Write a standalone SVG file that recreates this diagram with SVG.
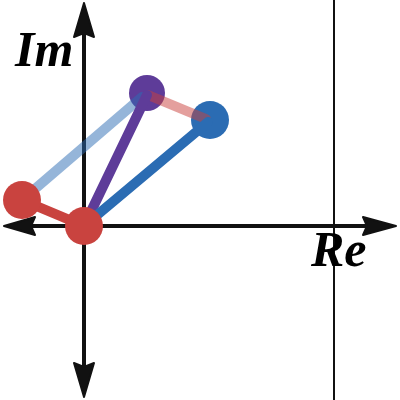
<svg xmlns="http://www.w3.org/2000/svg" width="400" height="400" viewBox="0 0 400 400">
<style>
.axis{stroke:#111;stroke-width:4;fill:none}
.head{fill:#111;stroke:#111;stroke-width:2;stroke-linejoin:round}
.seg{stroke-width:10;stroke-linecap:round;fill:none}
.lbl{font-family:"Liberation Serif","Times New Roman",serif;font-style:italic;font-weight:bold;font-size:50px;fill:#000}
</style>
<rect width="400" height="400" fill="#fff"/>
<g id="axes">
<line x1="334" y1="0" x2="334" y2="400" stroke="#111" stroke-width="2"/>
<line class="axis" x1="10" y1="226" x2="390" y2="226"/>
<line class="axis" x1="84" y1="10" x2="84" y2="390"/>
<polygon class="head" points="396,226 363,217 367,226 363,235"/>
<polygon class="head" points="4,226 35,217 31,226 35,235"/>
<polygon class="head" points="84,3 74,37 84,33 94,37"/>
<polygon class="head" points="84,397 74,363 84,367 94,363"/>
</g>
<g id="labels">
<text class="lbl" x="15" y="66">Im</text>
<text class="lbl" x="311" y="266">Re</text>
</g>
<g id="node-purple"><circle cx="147" cy="93" r="18" fill="#5e3c99"/></g>
<g id="node-blue"><circle cx="210" cy="120" r="19" fill="#2b6cb3"/></g>
<g id="connectors">
<line class="seg" x1="22" y1="200" x2="142" y2="97" stroke="#2b6cb3" stroke-opacity="0.5"/>
<line class="seg" x1="148" y1="95" x2="206" y2="119" stroke="#ca3f3b" stroke-opacity="0.5"/>
<line class="seg" x1="84" y1="226" x2="147" y2="95" stroke="#5e3c99"/>
<line class="seg" x1="84" y1="226" x2="208" y2="122" stroke="#2b6cb3" stroke-width="11"/>
<line class="seg" x1="22" y1="200" x2="84" y2="226" stroke="#c9433f"/>
</g>
<g id="node-red-left"><circle cx="22" cy="200" r="19" fill="#c9433f"/></g>
<g id="node-red-origin"><circle cx="84" cy="226" r="19" fill="#c9433f"/></g>
</svg>
